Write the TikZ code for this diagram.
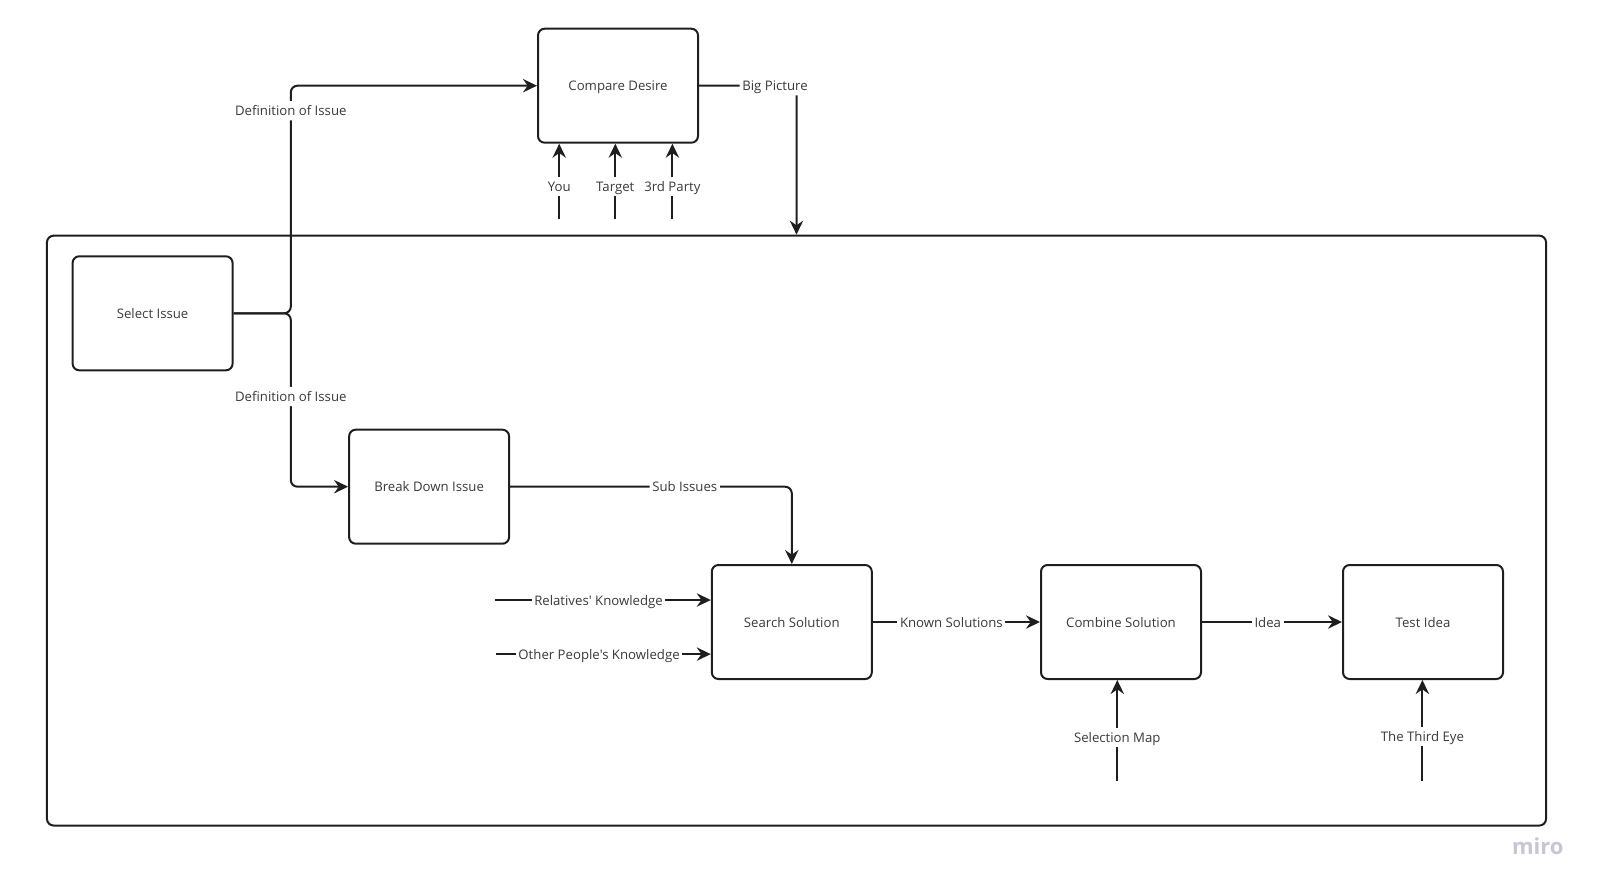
\documentclass[tikz,border=0pt]{standalone}
\usepackage{fontspec}
\setmainfont{Open Sans}[Ligatures=TeXOff]
\usetikzlibrary{arrows.meta,positioning,calc}
\definecolor{ink}{HTML}{1E1E1E}
\definecolor{txt}{HTML}{3A3A3A}
\definecolor{mirogrey}{HTML}{C6C6D4}
\begin{document}
\begin{tikzpicture}[x=0.75pt,y=-0.75pt,
  every node/.style={font=\fontsize{9.9}{12}\selectfont, text=txt, text height=10pt, text depth=2.4pt},
  box/.style={draw=ink, line width=1.5pt, rounded corners=5pt, minimum width=120pt, minimum height=85.5pt, inner sep=0pt},
  frame/.style={draw=ink, line width=1.5pt, rounded corners=5pt, minimum width=1124.3pt, minimum height=442.4pt, inner sep=0pt},
  conn/.style={draw=ink, line width=1.5pt},
  arr/.style={conn, -{Stealth[length=10.5pt,width=10pt,inset=3.5pt]}},
  lbl/.style={fill=white, inner xsep=2pt, inner ysep=1pt}
]
\useasboundingbox (0,0) rectangle (1600,890);
% frame
\node[frame] (frame) at (796.5,530.6) {};
% boxes
\node[box] (CD) at (618,85.7) {Compare Desire};
\node[box] (SI) at (152.6,313.3) {Select Issue};
\node[box] (BD) at (429.1,486.7) {Break Down Issue};
\node[box] (SS) at (791.8,622.0) {Search Solution};
\node[box] (CB) at (1121,622.0) {Combine Solution};
\node[box] (TI) at (1423,622.0) {Test Idea};
% free ends
\coordinate (dx) at (290.8,313.3);
\coordinate (you) at (559.2,219.4);
\coordinate (tgt) at (615.3,219.4);
\coordinate (trd) at (672.4,219.4);
\coordinate (rel) at (494.9,600);
\coordinate (oth) at (495.9,654.1);
\coordinate (sm) at (1117.3,780.6);
\coordinate (te) at (1422.4,780.6);
% connectors
\draw[arr, rounded corners=5pt] (SI.east) -- (dx) -- node[lbl,pos=0.89]{Definition of Issue} (dx |- CD.west) -- (CD.west);
\draw[arr, rounded corners=5pt] (SI.east) -- (dx) -- node[lbl,pos=0.48]{Definition of Issue} (dx |- BD.west) -- (BD.west);
\draw[arr, rounded corners=5pt] (CD.east) -- node[lbl,pos=0.78]{Big Picture} (CD.east -| frame.north) -- (frame.north);
\draw[arr] (you) -- node[lbl,pos=0.43]{You} (you |- CD.south);
\draw[arr] (tgt) -- node[lbl,pos=0.43]{Target} (tgt |- CD.south);
\draw[arr] (trd) -- node[lbl,pos=0.43]{3rd Party} (trd |- CD.south);
\draw[arr, rounded corners=5pt] (BD.east) -- node[lbl,pos=0.62]{Sub Issues} (BD.east -| SS.north) -- (SS.north);
\draw[arr] (rel) -- node[lbl,pos=0.48]{Relatives' Knowledge} (rel -| SS.west);
\draw[arr] (oth) -- node[lbl,pos=0.48]{Other People's Knowledge} (oth -| SS.west);
\draw[arr] (SS.east) -- node[lbl,pos=0.47]{Known Solutions} (CB.west);
\draw[arr] (CB.east) -- node[lbl,pos=0.47]{Idea} (TI.west);
\draw[arr] (sm) -- node[lbl,pos=0.43]{Selection Map} (sm |- CB.south);
\draw[arr] (te) -- node[lbl,pos=0.44]{The Third Eye} (te |- TI.south);
% watermark
\node[text=mirogrey, font=\fontsize{16.5}{19}\selectfont\bfseries] (miro) at (1537.8,849) {miro};
\end{tikzpicture}
\end{document}
